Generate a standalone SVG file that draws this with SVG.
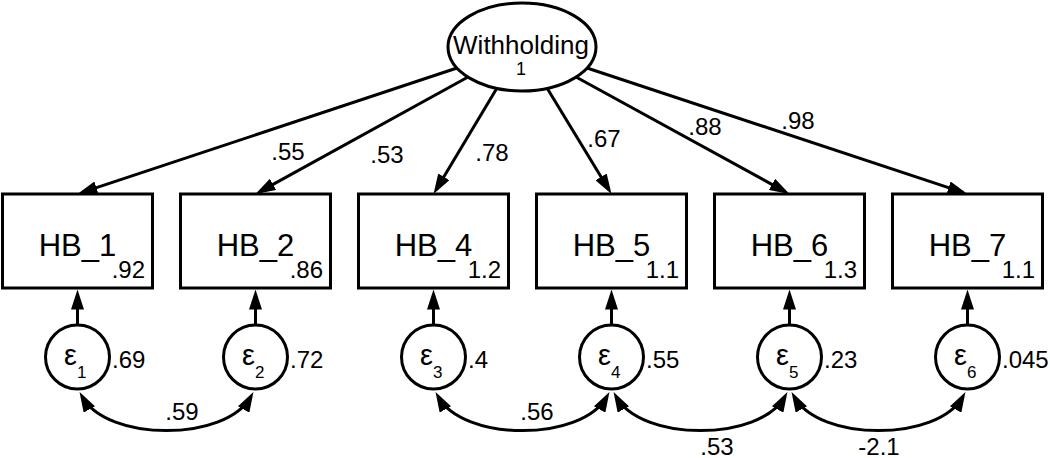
<svg xmlns="http://www.w3.org/2000/svg" width="1050" height="458" viewBox="0 0 1050 458">
<style>
.shape{fill:#fff;stroke:#000;stroke-width:3}
.ln{fill:none;stroke:#000;stroke-width:3}
text{font-family:"Liberation Sans",Arial,sans-serif;fill:#000}
.nm{font-size:31px;text-anchor:middle}
.lat{font-size:26px;text-anchor:middle}
.num{font-size:24px}
.ld{font-size:24px;text-anchor:middle}
.mid{text-anchor:middle}
.end{text-anchor:end}
.eps{font-size:29px}
.sub{font-size:17px}
</style>
<defs>
<marker id="ah" viewBox="0 0 20 13" refX="15" refY="6.5" markerWidth="20" markerHeight="13" orient="auto-start-reverse" markerUnits="userSpaceOnUse">
<path d="M0,0 L20,6.5 L0,13 z" fill="#000"/>
</marker>
</defs>
<g id="connectors">
<line class="ln" x1="457" y1="68" x2="82.2" y2="192.4" marker-end="url(#ah)"/>
<line class="ln" x1="468" y1="77" x2="259.9" y2="191.6" marker-end="url(#ah)"/>
<line class="ln" x1="497" y1="88" x2="436.1" y2="189.7" marker-end="url(#ah)"/>
<line class="ln" x1="547" y1="88" x2="608.9" y2="189.7" marker-end="url(#ah)"/>
<line class="ln" x1="576" y1="77" x2="785.1" y2="191.6" marker-end="url(#ah)"/>
<line class="ln" x1="587" y1="68" x2="962.8" y2="192.4" marker-end="url(#ah)"/>
<line class="ln" x1="77.5" y1="325" x2="77.5" y2="294.5" marker-end="url(#ah)"/>
<line class="ln" x1="255.5" y1="325" x2="255.5" y2="294.5" marker-end="url(#ah)"/>
<line class="ln" x1="433.5" y1="325" x2="433.5" y2="294.5" marker-end="url(#ah)"/>
<line class="ln" x1="611.5" y1="325" x2="611.5" y2="294.5" marker-end="url(#ah)"/>
<line class="ln" x1="789.5" y1="325" x2="789.5" y2="294.5" marker-end="url(#ah)"/>
<line class="ln" x1="967.5" y1="325" x2="967.5" y2="294.5" marker-end="url(#ah)"/>
<path class="ln" d="M82,396.4 C107.5,442 225.5,442 251,396.4" marker-start="url(#ah)" marker-end="url(#ah)"/>
<path class="ln" d="M438,396.4 C463.5,442 581.5,442 607,396.4" marker-start="url(#ah)" marker-end="url(#ah)"/>
<path class="ln" d="M616,396.4 C641.5,442 759.5,442 785,396.4" marker-start="url(#ah)" marker-end="url(#ah)"/>
<path class="ln" d="M794,396.4 C819.5,442 937.5,442 963,396.4" marker-start="url(#ah)" marker-end="url(#ah)"/>
<text class="ld" x="288" y="160">.55</text>
<text class="ld" x="387" y="163">.53</text>
<text class="ld" x="492" y="161">.78</text>
<text class="ld" x="604" y="147">.67</text>
<text class="ld" x="705" y="135">.88</text>
<text class="ld" x="798" y="129">.98</text>
<text class="ld" x="182" y="420">.59</text>
<text class="ld" x="537" y="420">.56</text>
<text class="ld" x="717" y="455">.53</text>
<text class="ld" x="879" y="455">-2.1</text>
</g>
<g id="Withholding">
<ellipse class="shape" cx="522" cy="47" rx="74" ry="44"/>
<text class="lat" x="521" y="54">Withholding</text>
<text class="mid" x="521" y="75" style="font-size:18px">1</text>
</g>
<g id="HB_1"><rect class="shape" x="2.5" y="194" width="150" height="94"/><text class="nm" x="77.5" y="256">HB_1</text><text class="num end" x="145" y="278">.92</text></g>
<g id="HB_2"><rect class="shape" x="180.5" y="194" width="150" height="94"/><text class="nm" x="255.5" y="256">HB_2</text><text class="num end" x="323" y="278">.86</text></g>
<g id="HB_4"><rect class="shape" x="358.5" y="194" width="150" height="94"/><text class="nm" x="433.5" y="256">HB_4</text><text class="num end" x="501" y="278">1.2</text></g>
<g id="HB_5"><rect class="shape" x="536.5" y="194" width="150" height="94"/><text class="nm" x="611.5" y="256">HB_5</text><text class="num end" x="679" y="278">1.1</text></g>
<g id="HB_6"><rect class="shape" x="714.5" y="194" width="150" height="94"/><text class="nm" x="789.5" y="256">HB_6</text><text class="num end" x="857" y="278">1.3</text></g>
<g id="HB_7"><rect class="shape" x="892.5" y="194" width="150" height="94"/><text class="nm" x="967.5" y="256">HB_7</text><text class="num end" x="1035" y="278">1.1</text></g>
<g id="e1"><circle class="shape" cx="77.5" cy="357" r="32"/><text x="64" y="365"><tspan class="eps">ε</tspan><tspan class="sub" dy="13">1</tspan></text><text class="num" x="112" y="368">.69</text></g>
<g id="e2"><circle class="shape" cx="255.5" cy="357" r="32"/><text x="242" y="365"><tspan class="eps">ε</tspan><tspan class="sub" dy="13">2</tspan></text><text class="num" x="290" y="368">.72</text></g>
<g id="e3"><circle class="shape" cx="433.5" cy="357" r="32"/><text x="420" y="365"><tspan class="eps">ε</tspan><tspan class="sub" dy="13">3</tspan></text><text class="num" x="468" y="368">.4</text></g>
<g id="e4"><circle class="shape" cx="611.5" cy="357" r="32"/><text x="598" y="365"><tspan class="eps">ε</tspan><tspan class="sub" dy="13">4</tspan></text><text class="num" x="646" y="368">.55</text></g>
<g id="e5"><circle class="shape" cx="789.5" cy="357" r="32"/><text x="776" y="365"><tspan class="eps">ε</tspan><tspan class="sub" dy="13">5</tspan></text><text class="num" x="824" y="368">.23</text></g>
<g id="e6"><circle class="shape" cx="967.5" cy="357" r="32"/><text x="954" y="365"><tspan class="eps">ε</tspan><tspan class="sub" dy="13">6</tspan></text><text class="num" x="1002" y="368">.045</text></g>
</svg>
